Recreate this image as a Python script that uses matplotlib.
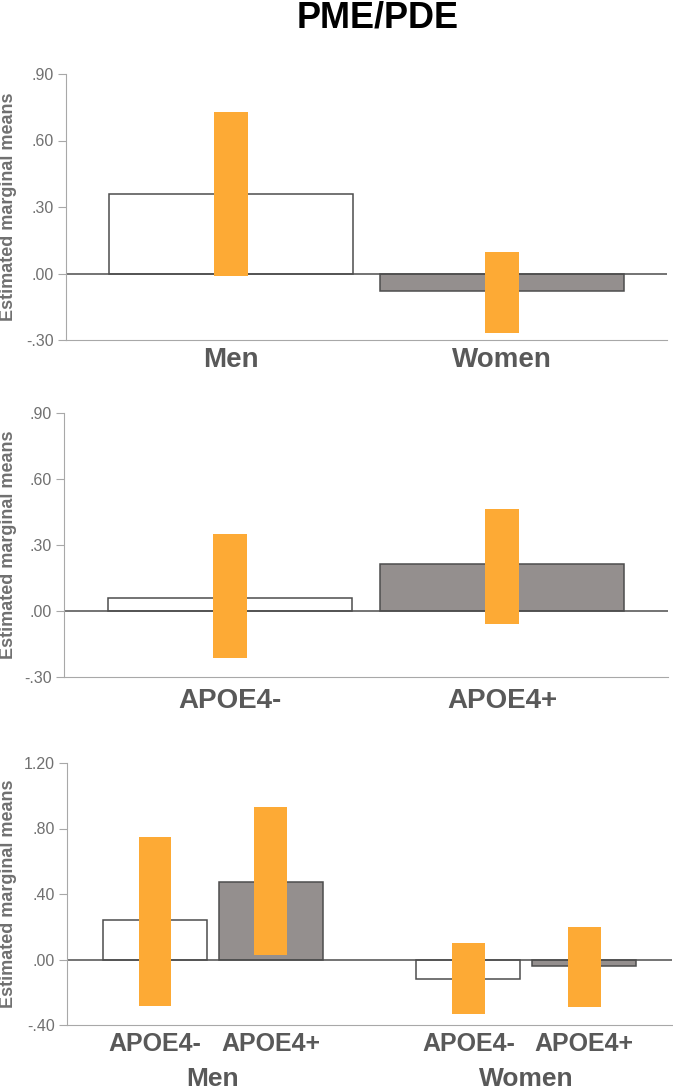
import matplotlib
matplotlib.use("Agg")
import matplotlib.pyplot as plt
import matplotlib.transforms as mtransforms
import numpy as np

# panel 1: sex
sex_labels = ["Men", "Women"]
sex_means = [0.36, -0.08]
sex_lo = [-0.01, -0.27]
sex_hi = [0.73, 0.095]

# panel 2: APOE4 status
apoe_labels = ["APOE4-", "APOE4+"]
apoe_means = [0.06, 0.215]
apoe_lo = [-0.215, -0.06]
apoe_hi = [0.35, 0.465]

# panel 3: sex x APOE4
inter_sex = ["Men", "Women"]
inter_labels = ["APOE4-", "APOE4+", "APOE4-", "APOE4+"]
inter_means = [0.24, 0.475, -0.12, -0.04]
inter_lo = [-0.285, 0.025, -0.335, -0.29]
inter_hi = [0.75, 0.93, 0.10, 0.20]

yticks_12 = [-0.30, 0.00, 0.30, 0.60, 0.90]
ytick_labels_12 = ["-.30", ".00", ".30", ".60", ".90"]
yticks_3 = [-0.40, 0.00, 0.40, 0.80, 1.20]
ytick_labels_3 = ["-.40", ".00", ".40", ".80", "1.20"]

W, H = 673, 1092
EDGE = "#4d4d4d"
GRAY = "#948f8e"
ORANGE = "#fdaa35"
AXIS = "#a8a8a8"
TXT = "#595959"
TICK_TXT = "#707070"
FONT = ["Liberation Sans", "DejaVu Sans"]

fig = plt.figure(figsize=(W / 100, H / 100), dpi=100)


def add_ax(left, right, top, bottom):
    return fig.add_axes([left / W, 1 - bottom / H, (right - left) / W, (bottom - top) / H])


def style(ax, ticks, labels, ylim, top, bottom):
    ax.set_ylim(*ylim)
    ax.set_yticks(ticks)
    ax.set_yticklabels(labels, fontsize=11.5, color=TICK_TXT, family=FONT)
    for s in ["top", "right"]:
        ax.spines[s].set_visible(False)
    ax.spines["left"].set_color(AXIS)
    ax.spines["bottom"].set_color(AXIS)
    ax.tick_params(axis="y", length=6, width=0.8, color=AXIS, pad=2.5)
    ax.tick_params(axis="x", length=0)
    ax.axhline(0, color=EDGE, lw=1.1, zorder=2)
    # y axis title, placed in figure pixels
    fig.text(9 / W, 1 - (top + bottom) / 2 / H, "Estimated marginal means",
             rotation=90, ha="center", va="center", fontsize=13, fontweight="bold",
             color=TICK_TXT, family=FONT)


def draw(ax, x, means, lo, hi, fills, bw, cw):
    ax.bar(x, means, width=bw, color=fills, edgecolor=EDGE, linewidth=1.1, zorder=1)
    ax.bar(x, np.array(hi) - np.array(lo), bottom=lo, width=cw, color=ORANGE, zorder=3)


fills2 = ["white", GRAY]

# panel 1
ax1 = add_ax(66, 667, 74, 340)
x1 = np.arange(len(sex_labels))
draw(ax1, x1, sex_means, sex_lo, sex_hi, fills2, 0.9, 0.125)
ax1.set_xlim(-0.61, 1.61)
style(ax1, yticks_12, ytick_labels_12, (-0.30, 0.90), 74, 340)
ax1.set_xticks(x1)
ax1.set_xticklabels(sex_labels, fontsize=20, fontweight="bold", color=TXT, family=FONT)
ax1.tick_params(axis="x", pad=5)

# panel 2
ax2 = add_ax(64, 668, 413, 677)
x2 = np.arange(len(apoe_labels))
draw(ax2, x2, apoe_means, apoe_lo, apoe_hi, fills2, 0.9, 0.125)
ax2.set_xlim(-0.61, 1.61)
style(ax2, yticks_12, ytick_labels_12, (-0.30, 0.90), 413, 677)
ax2.set_xticks(x2)
ax2.set_xticklabels(apoe_labels, fontsize=20, fontweight="bold", color=TXT, family=FONT)
ax2.tick_params(axis="x", pad=8)

# panel 3
ax3 = add_ax(66.5, 672, 763, 1025)
x3 = np.array([0, 1, 2.71, 3.71])
draw(ax3, x3, inter_means, inter_lo, inter_hi, fills2 * 2, 0.9, 0.285)
ax3.set_xlim(-0.765, 4.47)
style(ax3, yticks_3, ytick_labels_3, (-0.40, 1.20), 763, 1025)
ax3.set_xticks(x3)
ax3.set_xticklabels(inter_labels, fontsize=18, fontweight="bold", color=TXT, family=FONT)
ax3.tick_params(axis="x", pad=5)
trans = mtransforms.blended_transform_factory(ax3.transData, fig.transFigure)
for i, name in enumerate(inter_sex):
    xc = x3[2 * i:2 * i + 2].mean()
    fig.text(xc, 1 - 1086 / H, name, transform=trans, ha="center", va="baseline",
             fontsize=19, fontweight="bold", color=TXT, family=FONT)

fig.text(378 / W, 1 - 18 / H, "PME/PDE", ha="center", va="center", fontsize=26,
         fontweight="bold", color="black", family=FONT)

fig.savefig("out.png", dpi=100)
